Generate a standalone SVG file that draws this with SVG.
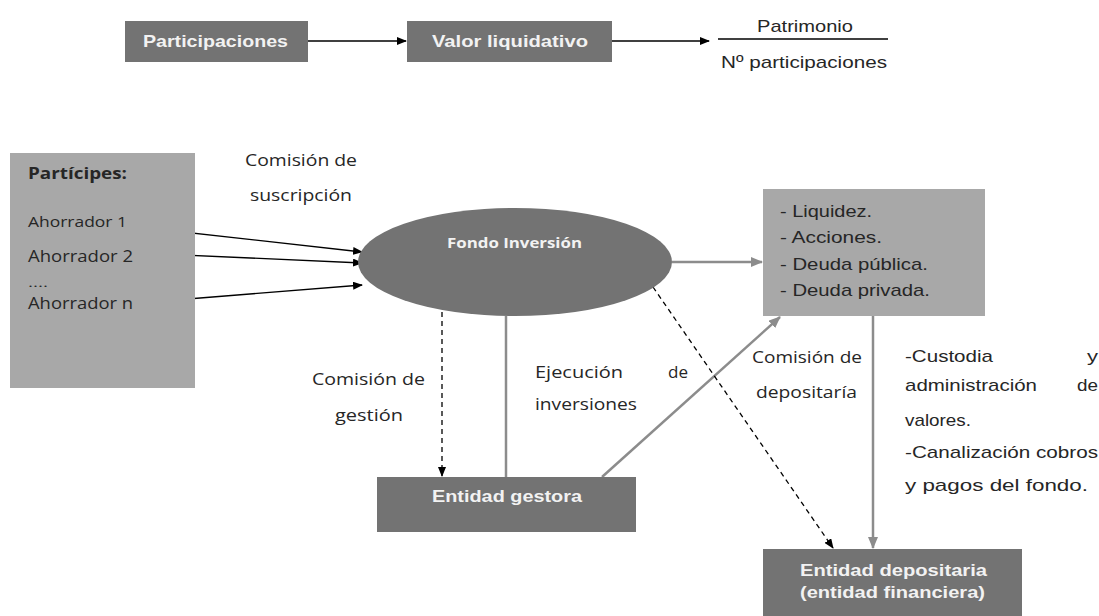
<svg xmlns="http://www.w3.org/2000/svg" width="1099" height="616" viewBox="0 0 1099 616">
<style>
.dark{fill:#737373;}
.light{fill:#a8a8a8;}
text{lengthAdjust:spacingAndGlyphs;}
.wb{font-family:"Liberation Sans",Arial,sans-serif;font-weight:bold;fill:#f2f2f2;font-size:17px;}
.ar{font-family:"Liberation Sans",Arial,sans-serif;fill:#262626;font-size:17px;}
.os{font-family:"Open Sans","Noto Sans",sans-serif;fill:#262626;font-size:16px;}
.blk{stroke:#000;stroke-width:1.3;fill:none;}
.gry{stroke:#8c8c8c;stroke-width:2.5;fill:none;}
</style>
<defs>
<marker id="ab" markerWidth="10" markerHeight="8" refX="9" refY="4" orient="auto" markerUnits="userSpaceOnUse"><path d="M0,0 L10,4 L0,8 Z" fill="#000"/></marker>
<marker id="ag" markerWidth="12" markerHeight="10" refX="11" refY="5" orient="auto" markerUnits="userSpaceOnUse"><path d="M0,0 L12,5 L0,10 Z" fill="#8c8c8c"/></marker>
</defs>
<rect width="1099" height="616" fill="#fff"/>
<g id="connectors">
<line class="blk" x1="308" y1="41" x2="406" y2="41" marker-end="url(#ab)"/>
<line class="blk" x1="612" y1="41" x2="709" y2="41" marker-end="url(#ab)"/>
<line class="blk" x1="138" y1="227" x2="362" y2="252" marker-end="url(#ab)"/>
<line class="blk" x1="138" y1="253" x2="362" y2="263" marker-end="url(#ab)"/>
<line class="blk" x1="138" y1="303" x2="362" y2="285" marker-end="url(#ab)"/>
<line class="gry" x1="672" y1="262" x2="762" y2="262" marker-end="url(#ag)"/>
<line class="blk" x1="442" y1="312" x2="442" y2="476" stroke-dasharray="5,4" marker-end="url(#ab)"/>
<line class="gry" x1="506" y1="316" x2="506" y2="477"/>
<line class="gry" x1="602" y1="477" x2="780" y2="317" marker-end="url(#ag)"/>
<line class="blk" x1="653" y1="287" x2="833" y2="548" stroke-dasharray="5,4" marker-end="url(#ab)"/>
<line class="gry" x1="873" y1="316" x2="873" y2="548" marker-end="url(#ag)"/>
</g>
<g id="participaciones">
<rect class="dark" x="125" y="21" width="183" height="41"/>
<text class="wb" x="143" y="47" textLength="145" lengthAdjust="spacingAndGlyphs">Participaciones</text>
</g>
<g id="valor-liquidativo">
<rect class="dark" x="407" y="21" width="205" height="41"/>
<text class="wb" x="432" y="47" textLength="156" lengthAdjust="spacingAndGlyphs">Valor liquidativo</text>
</g>
<g id="formula">
<text class="ar" x="757" y="32" textLength="96" lengthAdjust="spacingAndGlyphs">Patrimonio</text>
<line x1="718" y1="39" x2="888" y2="39" stroke="#000" stroke-width="1.3"/>
<text class="ar" x="721" y="68" textLength="166" lengthAdjust="spacingAndGlyphs">Nº participaciones</text>
</g>
<g id="participes">
<rect class="light" x="10" y="153" width="185" height="235"/>
<text x="28" y="179" textLength="99" lengthAdjust="spacingAndGlyphs" style="font-family:'Open Sans','Noto Sans',sans-serif;font-weight:bold;font-size:16px;fill:#262626">Partícipes:</text>
<text class="os" x="28" y="227" textLength="99" lengthAdjust="spacingAndGlyphs" style="font-size:14px">Ahorrador 1</text>
<text class="os" x="28" y="262" textLength="105" lengthAdjust="spacingAndGlyphs" style="font-size:16px">Ahorrador 2</text>
<text class="os" x="28" y="287" textLength="20" lengthAdjust="spacingAndGlyphs" style="font-size:11px">....</text>
<text class="os" x="28" y="309" textLength="105" lengthAdjust="spacingAndGlyphs" style="font-size:16px">Ahorrador n</text>
</g>
<g id="comision-suscripcion">
<text class="os" x="245" y="166" textLength="112" lengthAdjust="spacingAndGlyphs">Comisión de</text>
<text class="os" x="250" y="201" textLength="102" lengthAdjust="spacingAndGlyphs">suscripción</text>
</g>
<g id="fondo-inversion">
<ellipse class="dark" cx="515" cy="262" rx="157" ry="54"/>
<text x="447" y="248" textLength="135" lengthAdjust="spacingAndGlyphs" style="font-family:'Open Sans','Noto Sans',sans-serif;font-weight:bold;font-size:14px;fill:#f2f2f2">Fondo Inversión</text>
</g>
<g id="activos">
<rect class="light" x="763" y="189" width="222" height="127"/>
<text class="ar" x="780" y="217" textLength="92" lengthAdjust="spacingAndGlyphs">- Liquidez.</text>
<text class="ar" x="780" y="243" textLength="102" lengthAdjust="spacingAndGlyphs">- Acciones.</text>
<text class="ar" x="780" y="270" textLength="148" lengthAdjust="spacingAndGlyphs">- Deuda pública.</text>
<text class="ar" x="780" y="296" textLength="150" lengthAdjust="spacingAndGlyphs">- Deuda privada.</text>
</g>
<g id="comision-gestion">
<text class="os" x="312" y="385" textLength="113" lengthAdjust="spacingAndGlyphs">Comisión de</text>
<text class="os" x="335" y="421" textLength="68" lengthAdjust="spacingAndGlyphs">gestión</text>
</g>
<g id="ejecucion">
<text class="os" x="535" y="378" textLength="88" lengthAdjust="spacingAndGlyphs">Ejecución</text>
<text class="os" x="668" y="378" textLength="20" lengthAdjust="spacingAndGlyphs">de</text>
<text class="os" x="535" y="410" textLength="102" lengthAdjust="spacingAndGlyphs">inversiones</text>
</g>
<g id="comision-depositaria">
<text class="os" x="752" y="363" textLength="110" lengthAdjust="spacingAndGlyphs">Comisión de</text>
<text class="os" x="756" y="398" textLength="101" lengthAdjust="spacingAndGlyphs">depositaría</text>
</g>
<g id="funciones">
<text class="ar" x="905" y="362" textLength="88" lengthAdjust="spacingAndGlyphs">-Custodia</text>
<text class="ar" x="1087" y="362" textLength="11" lengthAdjust="spacingAndGlyphs">y</text>
<text class="ar" x="905" y="391" textLength="132" lengthAdjust="spacingAndGlyphs">administración</text>
<text class="ar" x="1077" y="391" textLength="21" lengthAdjust="spacingAndGlyphs">de</text>
<text class="ar" x="905" y="426" textLength="66" lengthAdjust="spacingAndGlyphs">valores.</text>
<text class="ar" x="905" y="458" textLength="193" lengthAdjust="spacingAndGlyphs">-Canalización cobros</text>
<text class="ar" x="905" y="491" textLength="183" lengthAdjust="spacingAndGlyphs">y pagos del fondo.</text>
</g>
<g id="entidad-gestora">
<rect class="dark" x="377" y="477" width="259" height="55"/>
<text class="wb" x="432" y="502" textLength="150" lengthAdjust="spacingAndGlyphs">Entidad gestora</text>
</g>
<g id="entidad-depositaria">
<rect class="dark" x="763" y="549" width="259" height="67"/>
<text class="wb" x="800" y="576" textLength="187" lengthAdjust="spacingAndGlyphs">Entidad depositaria</text>
<text class="wb" x="800" y="598" textLength="185" lengthAdjust="spacingAndGlyphs">(entidad financiera)</text>
</g>
</svg>
